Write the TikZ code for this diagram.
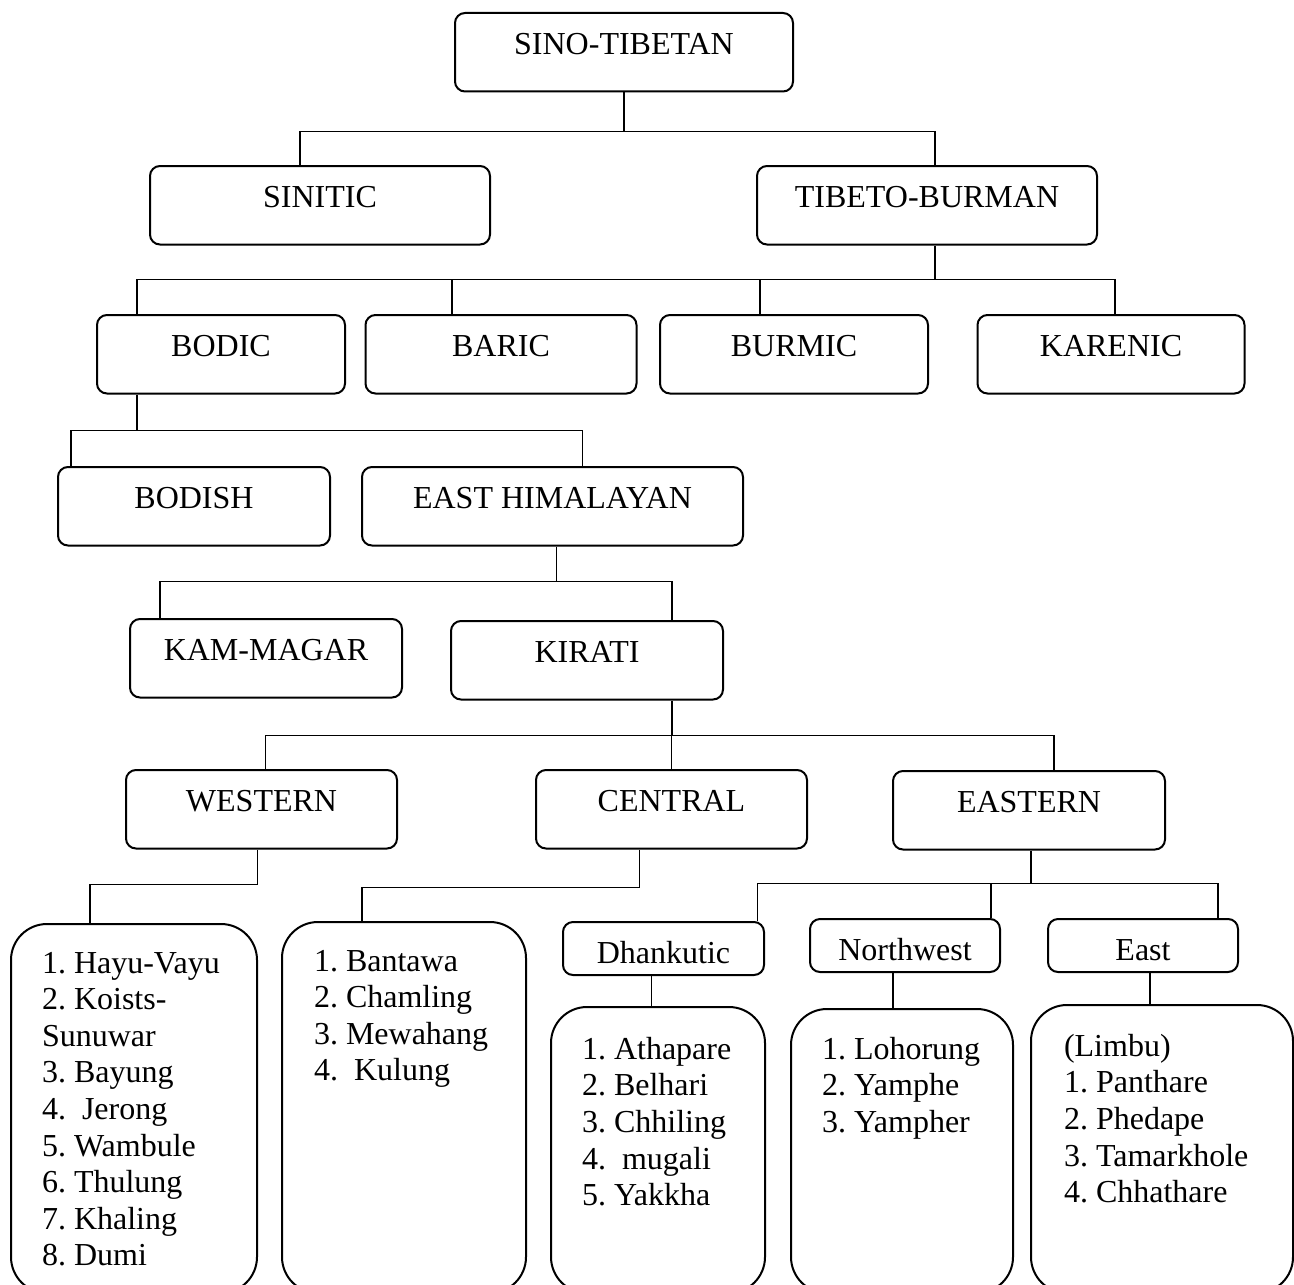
\documentclass[tikz,border=0pt]{standalone}
\usepackage{fontspec}
\setmainfont{Liberation Serif}
\frenchspacing
\usetikzlibrary{calc,positioning}
\tikzset{%
	group/.style    = {draw, rounded corners=5pt, anchor=north, inner sep=0pt, minimum width=#1, text height=20.75pt, text depth=18.5pt, text centered},
	subgroup/.style = {draw, rounded corners=5pt, anchor=north, inner sep=0pt, minimum width=#1, text height=20.75pt, text depth=5.75pt, text centered},
	langbox/.style  = {draw, rounded corners=18pt, anchor=north, inner sep=0pt, minimum width=#1},
	langlist/.style = {anchor=north west, inner sep=0pt, align=left},
	link/.style     = {line width=0.9pt},
}
\begin{document}
\begin{tikzpicture}[x=0.5pt, y=-0.5pt, line width=1pt, font=\fontsize{16}{18.3}\selectfont]
	\useasboundingbox (0,0) rectangle (1294,1284);
	\clip (0,0) rectangle (1294,1284);
	% family and branches
	\node[group=169pt] (st) at (624,12) {SINO-TIBETAN};
	\node[group=170pt] (sin) at (320,165) {SINITIC};
	\node[group=170pt] (tb) at (927,165) {TIBETO-BURMAN};
	\node[group=124pt] (bod) at (221,314) {BODIC};
	\node[group=135.5pt] (bar) at (501,314) {BARIC};
	\node[group=134pt] (bur) at (794,314) {BURMIC};
	\node[group=133.5pt] (kar) at (1111,314) {KARENIC};
	\node[group=136pt] (bsh) at (194,466) {BODISH};
	\node[group=190.5pt] (eh) at (552.5,466) {EAST HIMALAYAN};
	\node[group=136pt] (km) at (266,618) {KAM-MAGAR};
	\node[group=136pt] (kir) at (587,620) {KIRATI};
	\node[group=135.5pt] (wes) at (261.5,769) {WESTERN};
	\node[group=135.5pt] (cen) at (671.5,769) {CENTRAL};
	\node[group=136pt] (eas) at (1029,770) {EASTERN};
	\node[subgroup=100.5pt] (dh) at (663.5,921) {Dhankutic};
	\node[subgroup=95pt] (nw) at (905,918) {Northwest};
	\node[subgroup=95pt] (ea) at (1143,918) {East};
	% language lists
	\node[langbox=123pt, minimum height=184.5pt] (wesl) at (134,923) {};
	\node[langbox=122pt, minimum height=185.5pt] (cenl) at (404,921) {};
	\node[langbox=107pt, minimum height=143pt] (dhl) at (658,1006) {};
	\node[langbox=111pt, minimum height=142pt] (nwl) at (902,1008) {};
	\node[langbox=131pt, minimum height=144pt] (eal) at (1162,1004) {};
	\node[langlist] (wesl-t) at (41,951) {1. Hayu-Vayu\\2. Koists-\\Sunuwar\\3. Bayung\\4.\ \ Jerong\\5. Wambule\\6. Thulung\\7. Khaling\\8. Dumi};
	\node[langlist] (cenl-t) at (313,949) {1. Bantawa\\2. Chamling\\3. Mewahang\\4.\ \ Kulung};
	\node[langlist] (dhl-t) at (581,1036) {1. Athapare\\2. Belhari\\3. Chhiling\\4.\ \ mugali\\5. Yakkha};
	\node[langlist] (nwl-t) at (821,1036) {1. Lohorung\\2. Yamphe\\3. Yampher};
	\node[langlist] (eal-t) at (1063,1033) {(Limbu)\\1. Panthare\\2. Phedape\\3. Tamarkhole\\4. Chhathare};
	% connectors
	\draw[link] (st.south) -- ++(0,39) coordinate (b1);
	\draw[link] (b1) -| ([xshift=-10pt]sin.north);
	\draw[link] (b1) -| ([xshift=4pt]tb.north);
	\draw[link] ([xshift=4pt]tb.south) -- ++(0,34) coordinate (b2);
	\draw[link] (b2) -| ([xshift=-42pt]bod.north);
	\draw[link] (b2) -| ([xshift=-24.5pt]bar.north);
	\draw[link] (b2) -| ([xshift=-17pt]bur.north);
	\draw[link] (b2) -| ([xshift=2pt]kar.north);
	\draw[link] ([xshift=-42pt]bod.south) -- ++(0,36) coordinate (b3);
	\draw[link] (b3) -| ([xshift=-61.5pt]bsh.north);
	\draw[link] (b3) -| ([xshift=15pt]eh.north);
	\draw[link] ([xshift=2pt]eh.south) -- ++(0,35) coordinate (b4);
	\draw[link] (b4) -| ([xshift=-53pt]km.north);
	\draw[link] (b4) -| ([xshift=42.5pt]kir.north);
	\draw[link] ([xshift=42.5pt]kir.south) -- ++(0,35) coordinate (b5);
	\draw[link] (b5) -| ([xshift=2pt]wes.north);
	\draw[link] (b5) -| (cen.north);
	\draw[link] (b5) -| ([xshift=12.5pt]eas.north);
	\draw[link] ([xshift=-2pt]wes.south) -- ++(0,35) coordinate (b6);
	\draw[link] (b6) -| ([xshift=-22pt]wesl.north);
	\draw[link] ([xshift=-16pt]cen.south) -- ++(0,38) coordinate (b7);
	\draw[link] (b7) -| ([xshift=-21pt]cenl.north);
	\draw[link] ([xshift=1pt]eas.south) -- ++(0,33) coordinate (b8);
	\draw[link] (b8) -| ([xshift=47pt]dh.north);
	\draw[link] (b8) -| ([xshift=43pt]nw.north);
	\draw[link] (b8) -| ([xshift=37.5pt]ea.north);
	\draw[link] ([xshift=-6pt]dh.south) -- ([xshift=-6pt]dh.south |- dhl.north);
	\draw[link] ([xshift=-6pt]nw.south) -- ([xshift=-6pt]nw.south |- nwl.north);
	\draw[link] ([xshift=3.5pt]ea.south) -- ([xshift=3.5pt]ea.south |- eal.north);
\end{tikzpicture}
\end{document}
